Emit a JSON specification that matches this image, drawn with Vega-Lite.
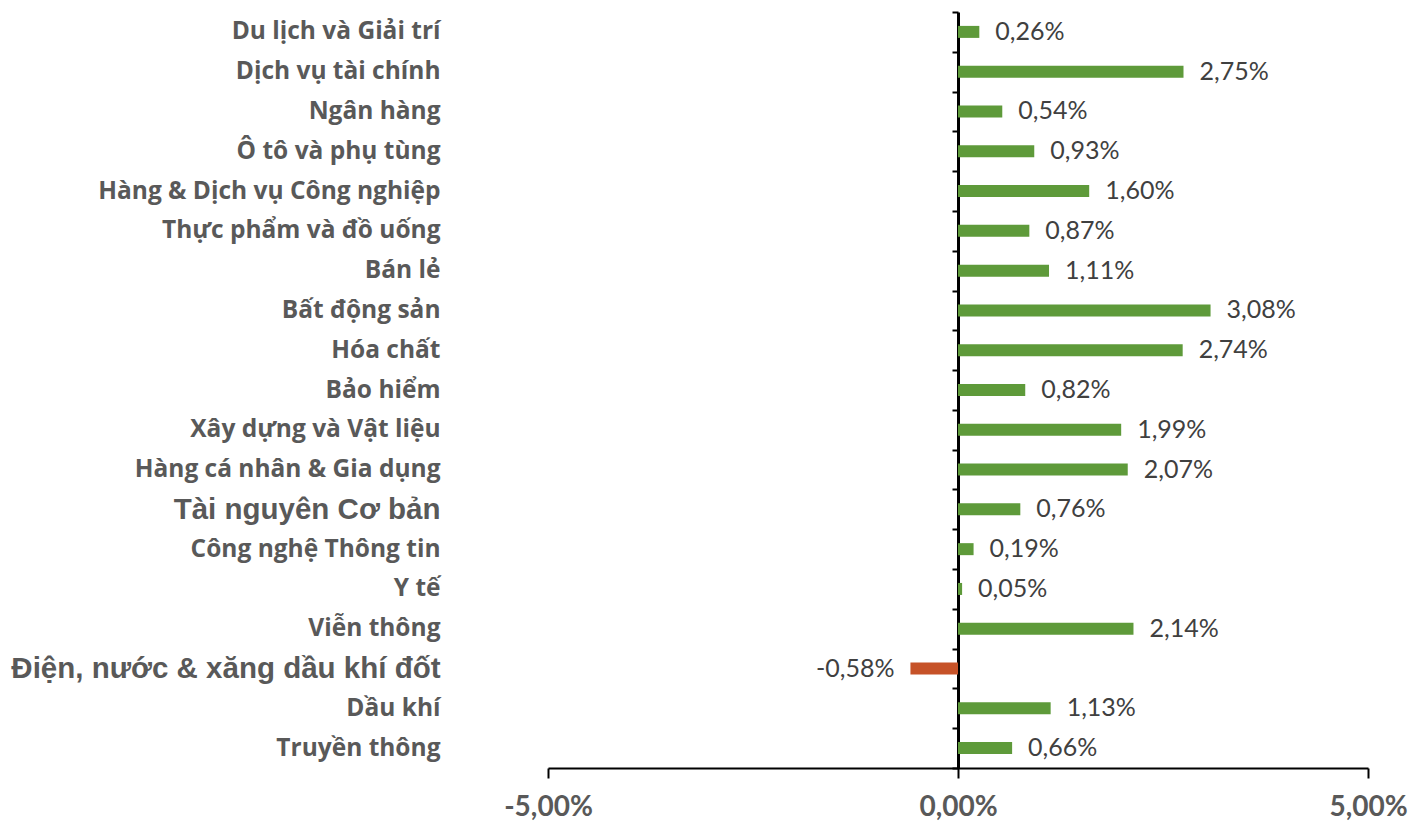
{
  "$schema": "https://vega.github.io/schema/vega-lite/v6.json",
  "autosize": "none",
  "width": 820,
  "height": 756,
  "padding": {"left": 548, "top": 12, "right": 45, "bottom": 54},
  "background": "white",
  "config": {
    "view": {"stroke": null},
    "locale": {"number": {"decimal": ",", "thousands": ".", "grouping": [3], "currency": ["", ""], "minus": "-"}}
  },
  "data": {
    "values": [
      {"nganh": "Du lịch và Giải trí", "v": 0.0026},
      {"nganh": "Dịch vụ tài chính", "v": 0.0275},
      {"nganh": "Ngân hàng", "v": 0.0054},
      {"nganh": "Ô tô và phụ tùng", "v": 0.0093},
      {"nganh": "Hàng & Dịch vụ Công nghiệp", "v": 0.016},
      {"nganh": "Thực phẩm và đồ uống", "v": 0.0087},
      {"nganh": "Bán lẻ", "v": 0.0111},
      {"nganh": "Bất động sản", "v": 0.0308},
      {"nganh": "Hóa chất", "v": 0.0274},
      {"nganh": "Bảo hiểm", "v": 0.0082},
      {"nganh": "Xây dựng và Vật liệu", "v": 0.0199},
      {"nganh": "Hàng cá nhân & Gia dụng", "v": 0.0207},
      {"nganh": "Tài nguyên Cơ bản", "v": 0.0076},
      {"nganh": "Công nghệ Thông tin", "v": 0.0019},
      {"nganh": "Y tế", "v": 0.0005},
      {"nganh": "Viễn thông", "v": 0.0214},
      {"nganh": "Điện, nước & xăng dầu khí đốt", "v": -0.0058},
      {"nganh": "Dầu khí", "v": 0.0113},
      {"nganh": "Truyền thông", "v": 0.0066}
    ]
  },
  "encoding": {
    "y": {
      "field": "nganh",
      "type": "nominal",
      "sort": null,
      "scale": {"paddingInner": 0, "paddingOuter": 0},
      "axis": {
        "title": null,
        "orient": "left",
        "offset": -410,
        "domain": true,
        "domainColor": "#000000",
        "domainWidth": 3,
        "ticks": true,
        "tickBand": "extent",
        "tickColor": "#000000",
        "tickWidth": 2,
        "tickSize": 6,
        "labelPadding": 512,
        "labelLimit": 0,
        "labelColor": "#595959",
        "labelFontWeight": "bold",
        "labelFont": {"condition": {"test": "datum.value === 'Tài nguyên Cơ bản' || datum.value === 'Điện, nước & xăng dầu khí đốt'", "value": "Liberation Sans"}, "value": "Open Sans"},
        "labelFontSize": {"condition": {"test": "datum.value === 'Tài nguyên Cơ bản' || datum.value === 'Điện, nước & xăng dầu khí đốt'", "value": 29.5}, "value": 24.5},
        "grid": false
      }
    },
    "x": {
      "field": "v",
      "type": "quantitative",
      "scale": {"domain": [-0.05, 0.05], "nice": false},
      "axis": {
        "title": null,
        "values": [-0.05, 0, 0.05],
        "format": ".2%",
        "grid": false,
        "domainColor": "#000000",
        "domainWidth": 2,
        "tickColor": "#000000",
        "tickWidth": 2,
        "tickSize": 10,
        "labelPadding": 15,
        "labelFlush": false,
        "labelFont": "Lato",
        "labelFontWeight": "bold",
        "labelFontSize": 28,
        "labelColor": "#595959"
      }
    }
  },
  "layer": [
    {
      "mark": {"type": "bar", "size": 12},
      "encoding": {
        "color": {
          "condition": {"test": "datum.v < 0", "value": "#c65228"},
          "value": "#5e9a3a"
        }
      }
    },
    {
      "transform": [{"filter": "datum.v >= 0"}],
      "mark": {"type": "text", "align": "left", "baseline": "middle", "dx": 16, "font": "Lato", "fontSize": 25, "color": "#404040"},
      "encoding": {"text": {"field": "v", "type": "quantitative", "format": ".2%"}}
    },
    {
      "transform": [{"filter": "datum.v < 0"}],
      "mark": {"type": "text", "align": "right", "baseline": "middle", "dx": -16, "font": "Lato", "fontSize": 25, "color": "#404040"},
      "encoding": {"text": {"field": "v", "type": "quantitative", "format": ".2%"}}
    }
  ]
}
